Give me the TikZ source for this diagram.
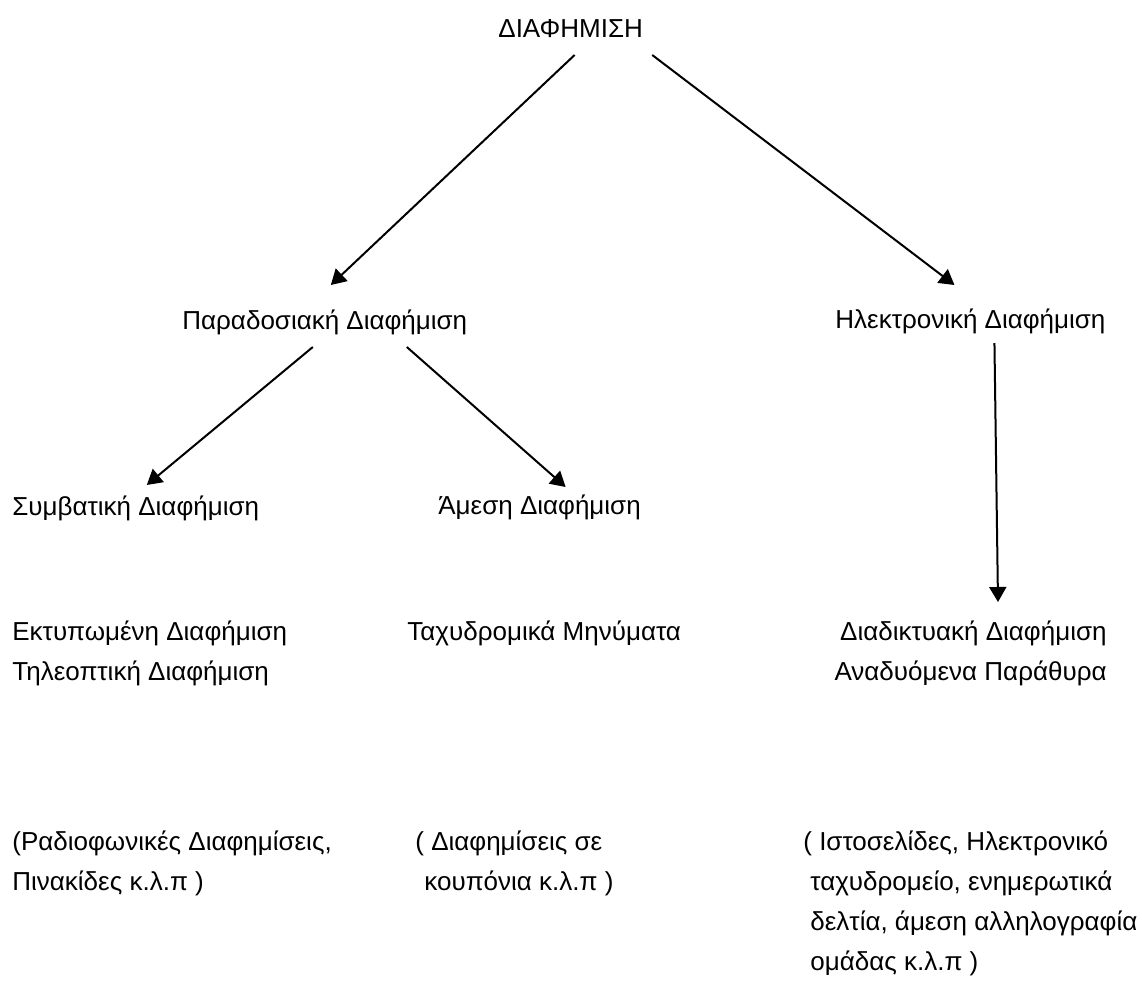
\documentclass[tikz,border=0pt]{standalone}
\usepackage{fontspec}
\setmainfont{Liberation Sans}
\usetikzlibrary{arrows.meta,positioning,calc}
\tikzset{
  lbl/.style={inner sep=0pt, anchor=base west, align=left, font=\fontsize{13}{20}\selectfont},
  lblr/.style={lbl, anchor=base east, align=right},
  arrow/.style={-{Triangle[length=7.5pt,width=8.5pt]}, line width=1pt},
}

\begin{document}
\begin{tikzpicture}[x=0.5pt,y=-0.5pt]
  \useasboundingbox (0,0) rectangle (1142,982);

  % top
  \node[lbl] (ad) at (498,37) {ΔΙΑΦΗΜΙΣΗ};

  % second level
  \node[lbl] (trad) at (182,329) {Παραδοσιακή Διαφήμιση};
  \node[lbl] (elec) at (835,328) {Ηλεκτρονική Διαφήμιση};

  \draw[arrow] ($(ad.base)+(4,18)$) -- ($(trad.base)+(6,-44)$);
  \draw[arrow] ($(ad.base east)+(9,18)$) -- ($(elec.base)+(-16,-43)$);

  % third level
  \node[lbl] (conv) at (12,515) {Συμβατική Διαφήμιση};
  \node[lbl] (direct) at (438,514) {Άμεση Διαφήμιση};

  \draw[arrow] ($(trad.base)+(-12,18)$) -- ($(conv.base)+(11,-30)$);
  \draw[arrow] ($(trad.base)+(82,18)$) -- ($(direct.base)+(26,-27)$);

  % media (base = last line)
  \node[lbl] (print) at (12,680) {Εκτυπωμένη Διαφήμιση\\Τηλεοπτική Διαφήμιση};
  \node[lbl] (mail) at (407,640) {Ταχυδρομικά Μηνύματα};
  \node[lblr] (web) at (1107,680) {Διαδικτυακή Διαφήμιση\\Αναδυόμενα Παράθυρα};

  \draw[arrow] ($(elec.base)+(24,15)$) -- ($(web.base east)+(-109,-78)$);

  % examples
  \node[lbl] (radio) at (12,890) {(Ραδιοφωνικές Διαφημίσεις,\\Πινακίδες κ.λ.π )};
  \node[lbl] (coupon) at (415,890) {( Διαφημίσεις σε\\\hspace{4.5pt}κουπόνια κ.λ.π )};
  \node[lbl] (sites) at (803,970) {( Ιστοσελίδες, Ηλεκτρονικό\\\hspace{3.5pt}ταχυδρομείο, ενημερωτικά\\\hspace{3.5pt}δελτία, άμεση αλληλογραφία\\\hspace{3.5pt}ομάδας κ.λ.π )};

\end{tikzpicture}
\end{document}
